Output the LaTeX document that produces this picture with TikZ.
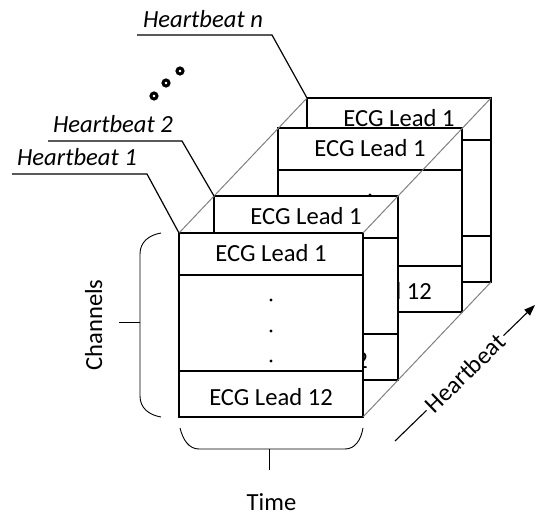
\documentclass[tikz,border=0pt]{standalone}
\usepackage{fontspec}
\setmainfont{Carlito}
\usetikzlibrary{arrows.meta}
\begin{document}
\begin{tikzpicture}[x=1pt,y=-1pt,
  txt/.style={font=\fontsize{24.6pt}{29pt}\selectfont, inner sep=0pt},
  itxt/.style={font=\fontsize{24.6pt}{29pt}\selectfont\itshape, inner sep=0pt},
  ecgbox/.style={draw=black, line width=2.6pt, fill=white, minimum width=184pt, minimum height=184pt, inner sep=0pt, outer sep=0pt},
  sepline/.style={line width=1.3pt},
  guide/.style={draw=black!50, line width=1pt},
  leader/.style={line width=1.2pt},
  brace/.style={line width=0.9pt},
]
\useasboundingbox (0,0) rectangle (536,513);

% stacked heartbeat boxes, back to front
\foreach \n/\cx/\cy in {b4/399/190, b3/370/220, b2/306/288, b1/271/325} {
  \node[ecgbox] (\n) at (\cx,\cy) {};
  \draw[sepline] ([yshift=-42pt]\n.north west) -- ([yshift=-42pt]\n.north east);
  \draw[sepline] ([yshift=46pt]\n.south west) -- ([yshift=46pt]\n.south east);
  \node[txt, anchor=base] (\n top) at ([yshift=-29pt]\n.north) {ECG Lead 1};
  \node[txt, anchor=base] (\n bot) at ([yshift=12pt]\n.south) {ECG Lead 12};
  \foreach \d in {67,98,128} \fill ([yshift=-\d pt]\n.north) circle (1.6pt);
}

% perspective guides
\draw[guide] (b1.north west) -- (b4.north west);
\draw[guide] (b1.north east) -- (b4.north east);
\draw[guide] (b1.south east) -- (b4.south east);

% heartbeat labels
\node[itxt, anchor=base] (hb1) at (77,166) {Heartbeat 1};
\node[itxt, anchor=base] (hb2) at (113,133) {Heartbeat 2};
\node[itxt, anchor=base] (hbn) at (203,28) {Heartbeat n};
\coordinate (u1a) at (12,174); \coordinate (u1b) at (147,174);
\draw[leader] (u1a) -- (u1b) -- (b1.north west);
\coordinate (u2a) at (48,141); \coordinate (u2b) at (182,141);
\draw[leader] (u2a) -- (u2b) -- (b2.north west);
\coordinate (una) at (137,35); \coordinate (unb) at (272,35);
\draw[leader] (una) -- (unb) -- (b4.north west);

% ellipsis rings
\foreach \x/\y in {154/96, 166/83, 180/71}
  \draw[line width=3pt, fill=white] (\x,\y) circle (3pt);

% channels brace
\coordinate (cbt) at (161,233); \coordinate (cbb) at (161,417);
\coordinate (cbm) at (140,322); \coordinate (cbk) at (119,322);
\draw[brace] (cbt) .. controls (149,235) and (140,242) .. (140,254) -- (140,396) .. controls (140,408) and (149,415) .. (cbb);
\draw[brace] (cbm) -- (cbk);
\node[txt, rotate=90, anchor=base] (chan) at (102,325) {Channels};

% time brace
\coordinate (tbl) at (180,428); \coordinate (tbr) at (363,428);
\coordinate (tbm) at (269,449); \coordinate (tbk) at (269,470);
\draw[brace] (tbl) .. controls (183,440) and (189,449) .. (199,449) -- (345,449) .. controls (355,449) and (361,440) .. (tbr);
\draw[brace] (tbm) -- (tbk);
\node[txt, anchor=base] (time) at (271.5,510) {Time};

% heartbeat axis
\coordinate (hs) at (395,441); \coordinate (he) at (535,305);
\draw[line width=1.1pt, -{Triangle[length=11pt,width=8pt]}] (hs) -- node[txt, sloped, fill=white, inner sep=3pt] (hbaxis) {Heartbeat} (he);
\end{tikzpicture}
\end{document}
